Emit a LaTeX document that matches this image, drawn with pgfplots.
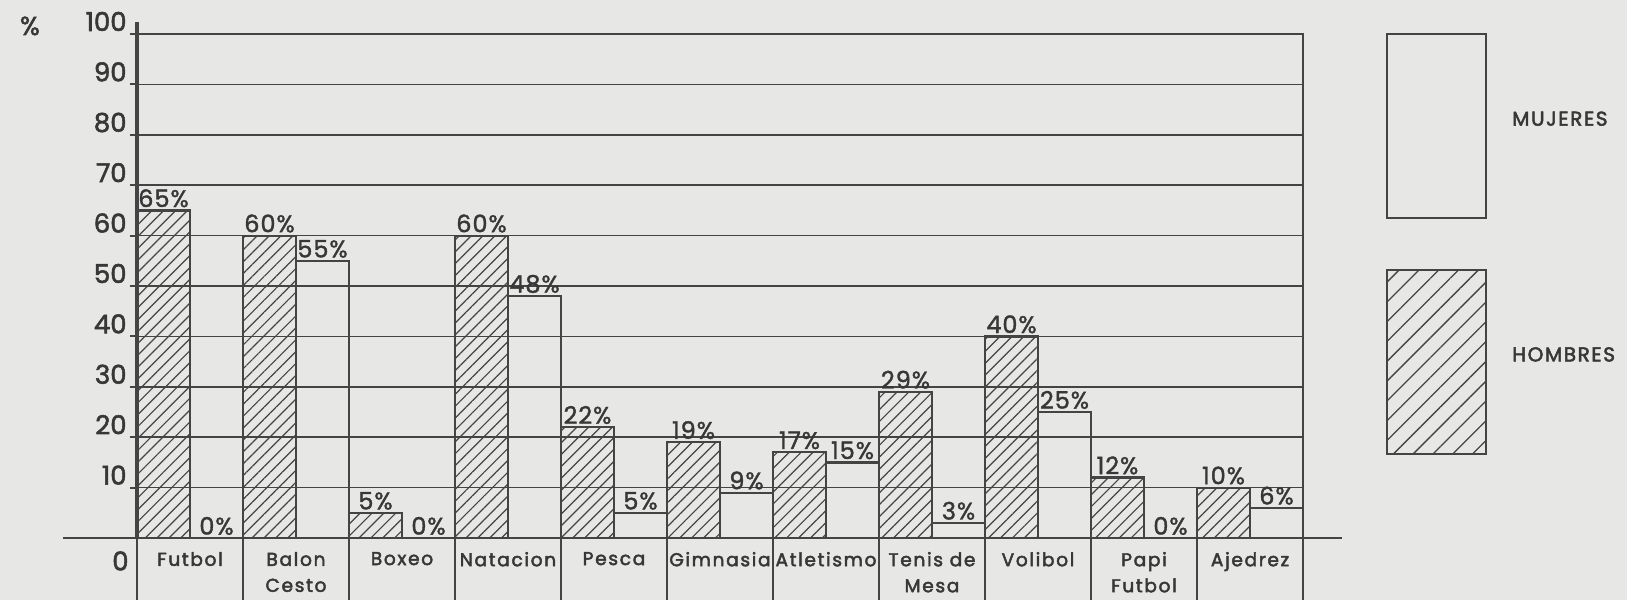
\documentclass[border=0pt]{standalone}
\usepackage{fontspec}
\setmainfont{Poppins}
\usepackage{pgfplots}
\pgfplotsset{compat=1.18}
\usetikzlibrary{patterns.meta}
\definecolor{bg}{RGB}{231,231,229}
\definecolor{ink}{RGB}{68,68,68}
\definecolor{txt}{RGB}{55,55,55}
\newcommand{\catfont}{\fontsize{9.3}{13}\selectfont\addfontfeatures{LetterSpace=9,FakeBold=2.5}}
\newcommand{\tickfont}{\fontsize{13}{14}\selectfont\addfontfeatures{FakeBold=2}}
\newcommand{\pctfont}{\fontsize{12}{14}\selectfont\addfontfeatures{LetterSpace=4,FakeBold=1.5}}
\newcommand{\legfont}{\fontsize{10}{12}\selectfont\addfontfeatures{LetterSpace=8,FakeBold=2.5}}
\begin{document}
\begin{tikzpicture}
\useasboundingbox (-68.5pt,-31pt) rectangle (745pt,269pt);
\fill[bg] (-68.5pt,-31pt) rectangle (745pt,269pt);
\begin{axis}[
  at={(0pt,0pt)}, anchor=south west,
  scale only axis, width=583pt, height=252pt,
  xmin=0, xmax=11, ymin=0, ymax=100, clip=false,
  /pgf/number format/assume math mode=true,
  axis line style={draw=ink, line width=1.1pt},
  ymajorgrids, grid style={draw=ink, line width=0.8pt},
  ytick={10,20,...,100},
  extra y ticks={0}, extra y tick labels={0},
  extra y tick style={yticklabel style={anchor=north east, yshift=-8pt, xshift=1pt}},
  xtick={0.5,1.5,...,10.5},
  minor xtick={0,1,...,11},
  xticklabels={Futbol, Balon\\Cesto, Boxeo, Natacion, Pesca, Gimnasia, Atletismo, Tenis de\\Mesa, Volibol, Papi\\Futbol, Ajedrez},
  xticklabel style={align=center, font=\catfont, text=txt, anchor=north, yshift=0pt},
  major x tick style={draw=none},
  minor x tick style={draw=ink, line width=1pt},
  major y tick style={draw=ink, line width=1pt},
  minor tick length=31pt, major tick length=3.5pt, tick align=outside,
  xtick pos=bottom, ytick pos=left,
  yticklabel style={font=\tickfont, text=txt, anchor=base east, inner sep=0pt, yshift=1.5pt, xshift=-1.5pt},
  ylabel={\%},
  ylabel style={at={(rel axis cs:-0.0918,1.016)}, rotate=-90, anchor=center, font=\tickfont, text=txt},
  nodes near coords={\pgfmathprintnumber{\pgfplotspointmeta}\%},
  every node near coord/.append style={font=\pctfont, text=txt, inner sep=1pt, anchor=south},
  legend style={at={(1.0712,1.002)}, anchor=north west, draw=none, fill=none,
    inner sep=0pt, outer sep=0pt, row sep=25pt, column sep=12.5pt,
    font=\legfont, text=txt, nodes={inner sep=0pt, outer sep=0pt}},
  legend cell align=left,
  reverse legend,
]
\addplot[ybar, bar width=0.5, bar shift=0pt, draw=ink, line width=1.1pt,
  pattern={Lines[angle=45,distance=4.2pt,line width=0.6pt]}, pattern color=ink,
  legend image code/.code={\draw[draw=ink, line width=1.1pt, pattern={Lines[angle=45,distance=7pt,line width=0.65pt]}, pattern color=ink] (0pt,-49pt) rectangle (49.5pt,43pt);}]
coordinates {(0.25,65) (1.25,60) (2.25,5) (3.25,60) (4.25,22) (5.25,19) (6.25,17) (7.25,29) (8.25,40) (9.25,12) (10.25,10)};
\addlegendentry{HOMBRES}
\addplot[ybar, bar width=0.5, bar shift=0pt, draw=ink, line width=1.1pt, fill=none,
  legend image code/.code={\draw[draw=ink, line width=1.1pt] (0pt,-49pt) rectangle (49.5pt,43pt);}]
coordinates {(0.75,0) (1.75,55) (2.75,0) (3.75,48) (4.75,5) (5.75,9) (6.75,15) (7.75,3) (8.75,25) (9.75,0) (10.75,6)};
\addlegendentry{MUJERES}
\draw[ink, line width=2pt] (rel axis cs:0,0) -- (rel axis cs:0,1.024);
\draw[ink, line width=1.1pt] (rel axis cs:-0.0635,0) -- (rel axis cs:1.0335,0);
\end{axis}
\end{tikzpicture}
\end{document}
